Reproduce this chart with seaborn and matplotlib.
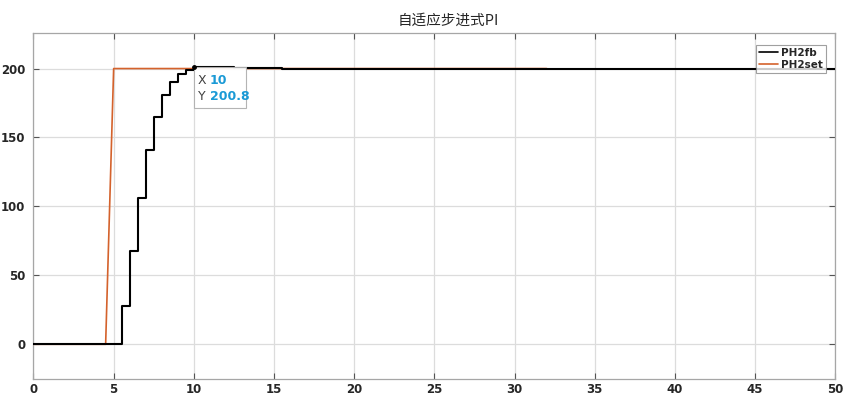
import matplotlib
matplotlib.use("Agg")
import matplotlib.pyplot as plt
import seaborn as sns
import pandas as pd
from matplotlib.patches import FancyBboxPatch
from matplotlib.lines import Line2D

# ---- data ----
fb_t = [0, 5.5, 6, 6.5, 7, 7.5, 8, 8.5, 9, 9.5, 10, 12.5, 15.5, 50]
fb_y = [0, 28, 68, 106, 141, 165, 181, 190, 196, 199, 200.8, 200.4, 200, 200]
set_t = [0, 4.5, 5, 32]
set_y = [0, 0, 200, 200]
x_ticks = [0, 5, 10, 15, 20, 25, 30, 35, 40, 45, 50]
y_ticks = [0, 50, 100, 150, 200]
title = "自适应步进式PI"
tip_x, tip_y = 10, 200.8

sns.set_theme(style="whitegrid")
plt.rcParams['font.family'] = ['Noto Sans CJK SC', 'DejaVu Sans']

fig = plt.figure(figsize=(8.43, 3.97), dpi=100)
ax = fig.add_axes([0.0397, 0.0446, 0.9512, 0.873])

df_fb = pd.DataFrame({"t": fb_t, "y": fb_y})
df_set = pd.DataFrame({"t": set_t, "y": set_y})

sns.lineplot(data=df_set, x="t", y="y", ax=ax, color="#D4622C", lw=1.2,
             estimator=None, sort=False, zorder=3)
sns.lineplot(data=df_fb, x="t", y="y", ax=ax, color="black", lw=1.5,
             estimator=None, sort=False, drawstyle="steps-post", zorder=4)

ax.set_xlim(0, 50)
ax.set_ylim(-25.4, 226)
ax.set_xticks(x_ticks)
ax.set_yticks(y_ticks)
ax.set_xlabel("")
ax.set_ylabel("")
ax.grid(True, color="#dcdcdc", lw=0.9)
for s in ax.spines.values():
    s.set_color("#a6a6a6")
    s.set_linewidth(0.9)
ax.tick_params(direction="in", length=4, width=0.8, color="#555555",
               top=True, right=True, bottom=True, left=True,
               labelsize=8.5, labelcolor="#262626")
ax.tick_params(axis="x", pad=3)
ax.tick_params(axis="y", pad=6)
for lab in ax.get_xticklabels() + ax.get_yticklabels():
    lab.set_fontweight("bold")
    lab.set_family("DejaVu Sans")

ax.set_title(title, fontsize=10.5, color="#262626", x=0.517, pad=6)

# legend
handles = [Line2D([], [], color="black", lw=1.2), Line2D([], [], color="#D4622C", lw=1.2)]
leg = ax.legend(handles, ["PH2fb", "PH2set"], loc="upper right",
                bbox_to_anchor=(0.9885, 0.965), fontsize=7.5, frameon=True,
                fancybox=False, handlelength=1.8, handletextpad=0.3,
                borderpad=0.3, labelspacing=0.15, borderaxespad=0)
leg.get_frame().set_edgecolor("#888888")
leg.get_frame().set_linewidth(0.8)
for t in leg.get_texts():
    t.set_fontweight("bold")
    t.set_family("DejaVu Sans")

# data tip
ax.plot([tip_x], [tip_y], marker="o", ms=2.5, color="black", zorder=6)
box_w_px, box_h_px = 52, 41
x0, y0 = ax.transData.transform((tip_x, tip_y))
inv = ax.transData.inverted()
bx0, by0 = inv.transform((x0, y0 - box_h_px))
bx1, by1 = inv.transform((x0 + box_w_px, y0))
rect = FancyBboxPatch((bx0, by0), bx1 - bx0, by1 - by0,
                      boxstyle="square,pad=0", facecolor="white",
                      edgecolor="#b0b0b0", lw=0.8, zorder=5, alpha=0.95)
ax.add_patch(rect)
fig.text((x0 + 4) / 843, (y0 - 13) / 397, "X", fontsize=9, color="#404040",
         va="center", ha="left", family="DejaVu Sans")
fig.text((x0 + 16) / 843, (y0 - 13) / 397, f"{tip_x}", fontsize=9, color="#1a9ad6",
         va="center", ha="left", fontweight="bold", family="DejaVu Sans")
fig.text((x0 + 4) / 843, (y0 - 29) / 397, "Y", fontsize=9, color="#404040",
         va="center", ha="left", family="DejaVu Sans")
fig.text((x0 + 16) / 843, (y0 - 29) / 397, f"{tip_y}", fontsize=9, color="#1a9ad6",
         va="center", ha="left", fontweight="bold", family="DejaVu Sans")

fig.savefig("out.png", dpi=100)
